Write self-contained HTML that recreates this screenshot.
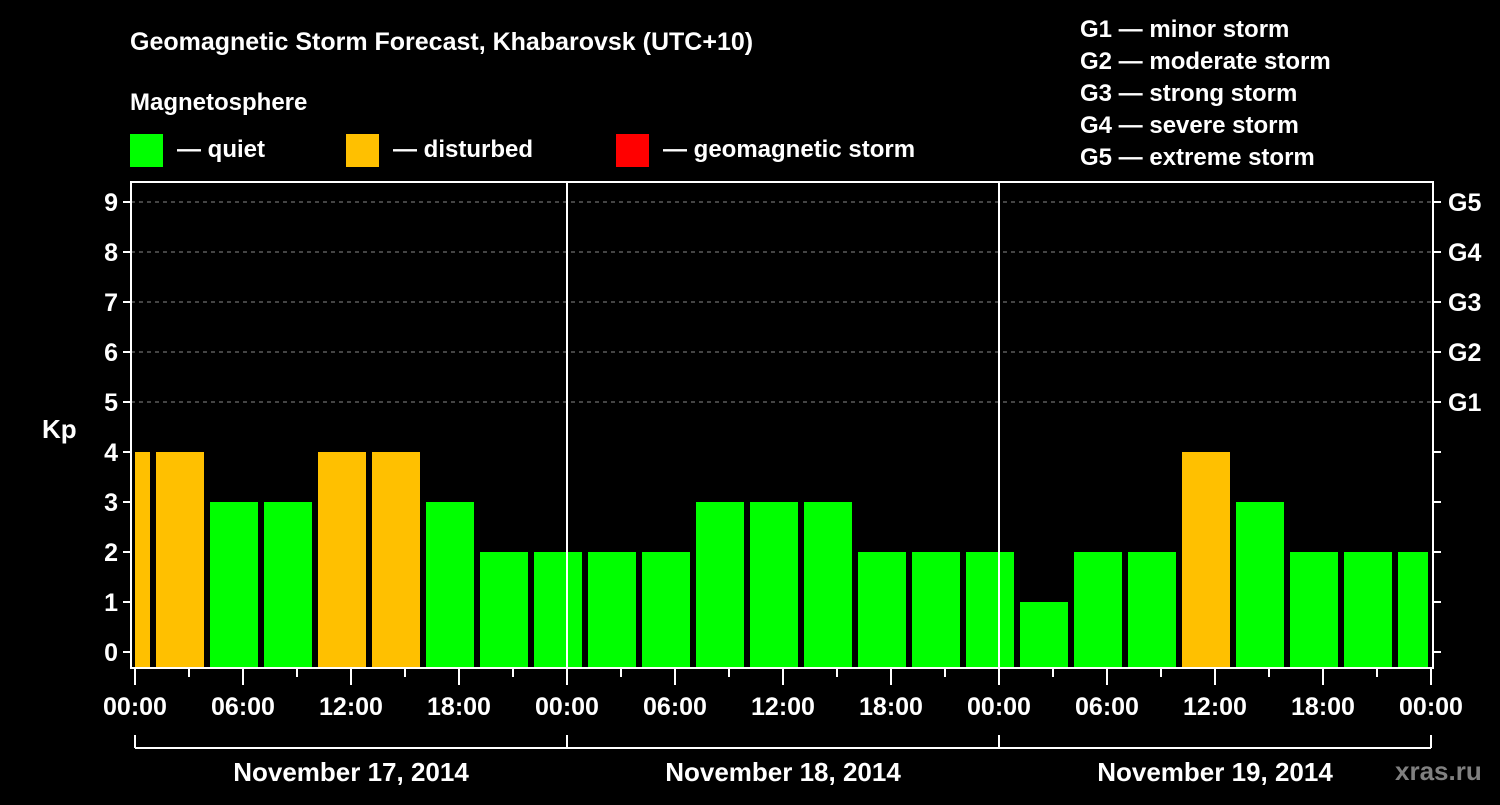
<!DOCTYPE html>
<html><head><meta charset="utf-8"><style>
body{margin:0;background:#000;}
svg text{font-family:"Liberation Sans",Arial,sans-serif;font-weight:bold;fill:#fff;}
</style></head><body>
<svg id="chart" width="1500" height="800" xmlns="http://www.w3.org/2000/svg">
<rect width="1500" height="800" fill="#000"/>
<text x="130" y="50" font-size="25">Geomagnetic Storm Forecast, Khabarovsk (UTC+10)</text>
<text x="130" y="110" font-size="24">Magnetosphere</text>
<rect x="130" y="134" width="33" height="33" fill="#00ff00"/>
<text x="177" y="157" font-size="24">— quiet</text>
<rect x="346" y="134" width="33" height="33" fill="#ffc000"/>
<text x="393" y="157" font-size="24">— disturbed</text>
<rect x="616" y="134" width="33" height="33" fill="#ff0000"/>
<text x="663" y="157" font-size="24">— geomagnetic storm</text>
<g font-size="24">
<text x="1080" y="37">G1 — minor storm</text>
<text x="1080" y="69">G2 — moderate storm</text>
<text x="1080" y="101">G3 — strong storm</text>
<text x="1080" y="133">G4 — severe storm</text>
<text x="1080" y="165">G5 — extreme storm</text>
</g>
<text x="42" y="438" font-size="26">Kp</text>
<g id="plot"></g>
<text x="1395" y="780" font-size="26" fill="#808080" style="fill:#808080">xras.ru</text>
</svg>
<script>
const kpValues=[4,4,3,3,4,4,3,2,2,2,2,3,3,3,2,2,2,1,2,2,4,3,2,2,2];
const startHourOffset=-2; // UTC+10: intervals start at 01:00 local, first starts -2h
const dayLabels=["November 17, 2014","November 18, 2014","November 19, 2014"];
const timeLabels=["00:00","06:00","12:00","18:00"];
const gLabels=["G1","G2","G3","G4","G5"];

const NS="http://www.w3.org/2000/svg";
const g=document.getElementById('plot');
const X0=135,PXH=18,Y0=652,PXK=50,TOP=182,BOT=668,L=131,R=1433;
const xs=h=>X0+h*PXH, ys=k=>Y0-k*PXK;
function el(t,a,p){const e=document.createElementNS(NS,t);for(const k in a)e.setAttribute(k,a[k]);(p||g).appendChild(e);return e;}
// grid
for(let k=5;k<=9;k++){const l=el('line',{x1:L,x2:R,y1:ys(k),y2:ys(k),stroke:'#888','stroke-dasharray':'4 4','stroke-width':1});

}
// bars
kpValues.forEach((v,i)=>{
 let h0=startHourOffset+i*3,h1=h0+3;
 let x0=Math.max(xs(h0)+3,X0),x1=Math.min(xs(h1)-3,xs(72)-3);
 const c=v>=5?'#ff0000':(v>=4?'#ffc000':'#00ff00');
 const r=el('rect',{x:x0,y:ys(v),width:x1-x0,height:BOT-ys(v),fill:c});
 
 
});
// day separators
for(let d=1;d<3;d++){const l=el('line',{x1:xs(d*24),x2:xs(d*24),y1:TOP,y2:BOT,stroke:'#fff','stroke-width':2});

}
// frame
const f=el('rect',{x:L,y:TOP,width:R-L,height:BOT-TOP,fill:'none',stroke:'#fff','stroke-width':2});


// y ticks
for(let k=0;k<=9;k++){
 el('line',{x1:L-8,x2:L,y1:ys(k),y2:ys(k),stroke:'#fff','stroke-width':2});
 el('line',{x1:R,x2:R+8,y1:ys(k),y2:ys(k),stroke:'#fff','stroke-width':2});
 const t=el('text',{x:118,y:ys(k)+9,'font-size':25,'text-anchor':'end'});t.textContent=k;
 
 
}
gLabels.forEach((s,i)=>{const t=el('text',{x:1448,y:ys(5+i)+9,'font-size':25});t.textContent=s;
 
 });
// x ticks
for(let h=0;h<=72;h+=3){el('line',{x1:xs(h),x2:xs(h),y1:BOT,y2:BOT+(h%6==0?17:9),stroke:'#fff','stroke-width':2});}
for(let h=0;h<=72;h+=6){const t=el('text',{x:xs(h),y:715,'font-size':25,'text-anchor':'middle'});t.textContent=timeLabels[(h/6)%4];
 
 }
// day bracket
el('line',{x1:xs(0),x2:xs(72),y1:748,y2:748,stroke:'#fff','stroke-width':2});
for(let d=0;d<=3;d++)el('line',{x1:xs(d*24),x2:xs(d*24),y1:735,y2:748,stroke:'#fff','stroke-width':2});
dayLabels.forEach((s,d)=>{const t=el('text',{x:xs(d*24+12),y:781,'font-size':26,'text-anchor':'middle'});t.textContent=s;
 
 });
</script>
</body></html>
